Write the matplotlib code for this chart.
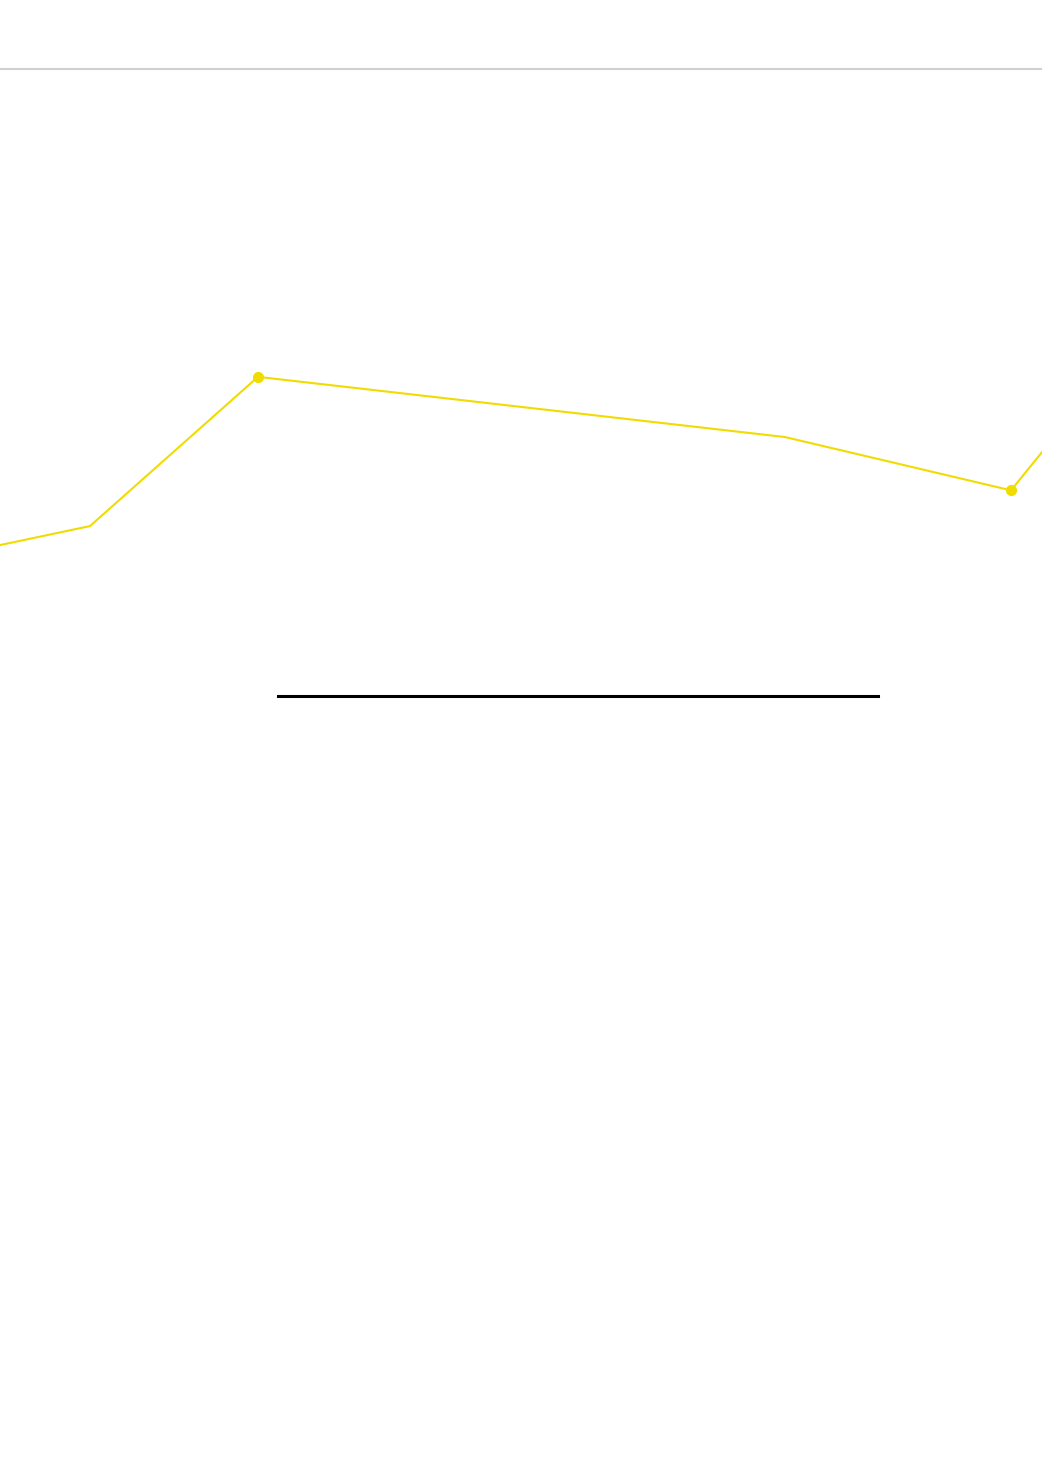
import matplotlib
matplotlib.use("Agg")
import matplotlib.pyplot as plt

# series: position along x and value (0-100 scale); first/last points run off the edges
X_POS = [-20, 90, 258, 785, 1011, 1070]
VALUES = [23.4, 27.1, 50.9, 41.3, 32.8, 44.4]
MARKED = [2, 4]

LINE_COLOR = "#f0dc00"


def main():
    fig = plt.figure(figsize=(10.42, 14.73), dpi=100)
    bottom = 1 - 696 / 1473
    top = 1 - 69 / 1473
    ax = fig.add_axes([0, bottom, 1, top - bottom])
    ax.set_xlim(0, 1042)
    ax.set_ylim(0, 100)
    ax.axis("off")

    # top grid line
    ax.axhline(100, color="#d0d0d0", lw=1.5, clip_on=False)

    ax.plot(X_POS, VALUES, color=LINE_COLOR, lw=1.5,
            marker="o", ms=7, markevery=MARKED, mfc=LINE_COLOR, mec=LINE_COLOR)

    # short black baseline
    ax.axhline(0, xmin=278 / 1042, xmax=878 / 1042, color="black", lw=2.2, clip_on=False)

    fig.savefig("out.png", dpi=100)


if __name__ == "__main__":
    main()
